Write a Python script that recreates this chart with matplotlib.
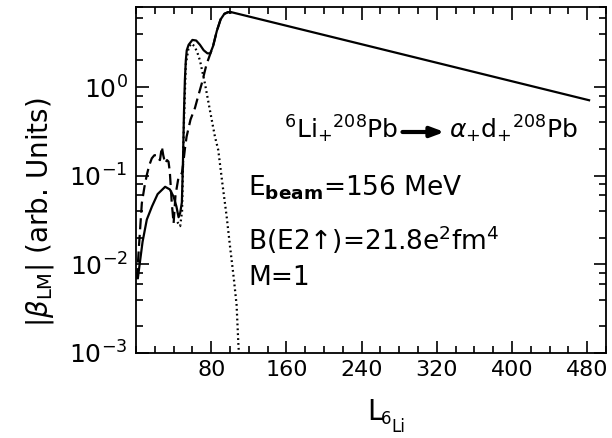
import matplotlib
matplotlib.use('Agg')
import matplotlib.pyplot as plt
from matplotlib.ticker import FixedLocator, NullFormatter, LogLocator

# ---- data ----
solid_x = [2, 3, 7, 11.5, 17, 23, 31, 36, 40, 43, 45.3, 47, 48.8, 50, 51, 52, 53, 54, 56, 60, 64, 68, 72, 76, 79, 82, 86, 90, 94, 98, 102, 482]
solid_y = [0.007, 0.0085, 0.018, 0.032, 0.045, 0.062, 0.075, 0.07, 0.058, 0.045, 0.034, 0.038, 0.05, 0.15, 0.5, 1.2, 2.0, 2.6, 3.0, 3.4, 3.35, 3.0, 2.6, 2.4, 2.4, 2.9, 4.3, 5.8, 6.7, 7.0, 6.97, 0.71]

dash_x = [1, 3, 6.2, 9, 11.5, 14, 16.8, 19.5, 22.2, 24, 25.5, 27.5, 29, 31, 33, 34.6, 36, 38, 40, 42, 45.3, 48.8, 50, 52, 53.8, 58, 62.7, 66, 70, 75, 80.4, 82, 86, 90, 94, 98, 102]
dash_y = [0.0068, 0.015, 0.049, 0.075, 0.102, 0.13, 0.157, 0.17, 0.171, 0.155, 0.15, 0.212, 0.17, 0.138, 0.15, 0.144, 0.11, 0.05, 0.029, 0.06, 0.097, 0.107, 0.13, 0.2, 0.275, 0.43, 0.58, 0.78, 1.1, 1.8, 2.6, 2.9, 4.3, 5.8, 6.7, 7.0, 6.97]

dot_x = [44, 47, 49, 51, 53, 56, 59, 62, 65, 68, 73.3, 78.6, 84, 87.5, 92, 96.4, 100, 104, 107, 109, 111]
dot_y = [0.03, 0.027, 0.04, 0.4, 1.8, 2.8, 3.1, 2.9, 2.5, 2.0, 1.1, 0.55, 0.275, 0.195, 0.08, 0.035, 0.016, 0.007, 0.0035, 0.0012, 0.0006]

xtick_vals = [80, 160, 240, 320, 400, 480]
xtick_labels = ['80', '160', '240', '320', '400', '480']
ytick_vals = [1e-3, 1e-2, 1e-1, 1e0]
ytick_labels = [r'$10^{-3}$', r'$10^{-2}$', r'$10^{-1}$', r'$10^{0}$']

plt.rcParams['mathtext.fontset'] = 'dejavusans'
plt.rcParams['font.family'] = ['DejaVu Sans']

W, H = 612, 438
fig = plt.figure(figsize=(W / 100, H / 100), dpi=100)
ax = fig.add_axes([136 / W, 1 - 353 / H, 470 / W, 346 / H])
ax.set_yscale('log')

lw = 1.6
ax.plot(solid_x, solid_y, color='k', lw=lw, ls='-', solid_joinstyle='round')
ax.plot(dash_x, dash_y, color='k', lw=lw, ls=(0, (5, 2.5)))
ax.plot(dot_x, dot_y, color='k', lw=lw, ls=(0, (0.8, 1.4)))

ax.set_xlim(0, 500)
ax.set_ylim(1e-3, 8)

ax.xaxis.set_major_locator(FixedLocator(xtick_vals))
ax.set_xticklabels(xtick_labels)
ax.xaxis.set_minor_locator(FixedLocator(list(range(0, 501, 20))))
ax.yaxis.set_major_locator(FixedLocator(ytick_vals))
ax.set_yticklabels(ytick_labels)
ax.yaxis.set_minor_locator(LogLocator(base=10, subs=(2, 4, 6, 8)))
ax.yaxis.set_minor_formatter(NullFormatter())

ax.tick_params(which='both', direction='in', top=True, right=True, width=1.2, colors='k')
ax.tick_params(which='major', length=9)
ax.tick_params(axis='x', which='major', pad=5, labelsize=16)
ax.tick_params(axis='y', which='major', pad=6, labelsize=18)
ax.tick_params(which='minor', length=5)
for s in ax.spines.values():
    s.set_linewidth(1.3)

fs = 19
def fx(px):
    return px / W
def fy(py):
    return 1 - py / H

# reaction line, drawn in pieces
fs1 = 18
t1 = fig.text(fx(284), fy(138), r'$^{6}\mathrm{Li}_{+}{}^{208}\mathrm{Pb}$', fontsize=fs1, va='baseline', ha='left')
fig.canvas.draw()
r = fig.canvas.get_renderer()
bb = t1.get_window_extent(r)
ax_start = bb.x1 + 4
ax_end = ax_start + 42
ay = H - 132
ax.annotate('', xy=(ax_end, ay), xytext=(ax_start, ay), xycoords='figure pixels', textcoords='figure pixels',
            arrowprops=dict(arrowstyle='-|>,head_length=0.8,head_width=0.3', lw=3, color='k', shrinkA=0, shrinkB=0))
fig.text(fx(ax_end + 5), fy(138), r'$\alpha_{+}\mathrm{d}_{+}{}^{208}\mathrm{Pb}$', fontsize=fs1, va='baseline', ha='left')

fig.text(fx(248), fy(195), r'E$_{\mathbf{beam}}$=156 MeV', fontsize=fs, va='baseline', ha='left')
fig.text(fx(248), fy(250), 'B(E2↑)=21.8e$^{2}$fm$^{4}$', fontsize=fs, va='baseline', ha='left')
fig.text(fx(248), fy(285), 'M=1', fontsize=fs, va='baseline', ha='left')

fig.text(fx(40), fy(212), r'|$\beta_{\mathrm{LM}}$| (arb. Units)', fontsize=20, rotation=90, va='center', ha='center')
fig.text(fx(367), fy(420), 'L', fontsize=20, va='baseline', ha='left')
fig.text(fx(381), fy(424), '6', fontsize=12, va='baseline', ha='left')
fig.text(fx(391), fy(432), 'Li', fontsize=12, va='baseline', ha='left')

fig.savefig('out.png', dpi=100)
